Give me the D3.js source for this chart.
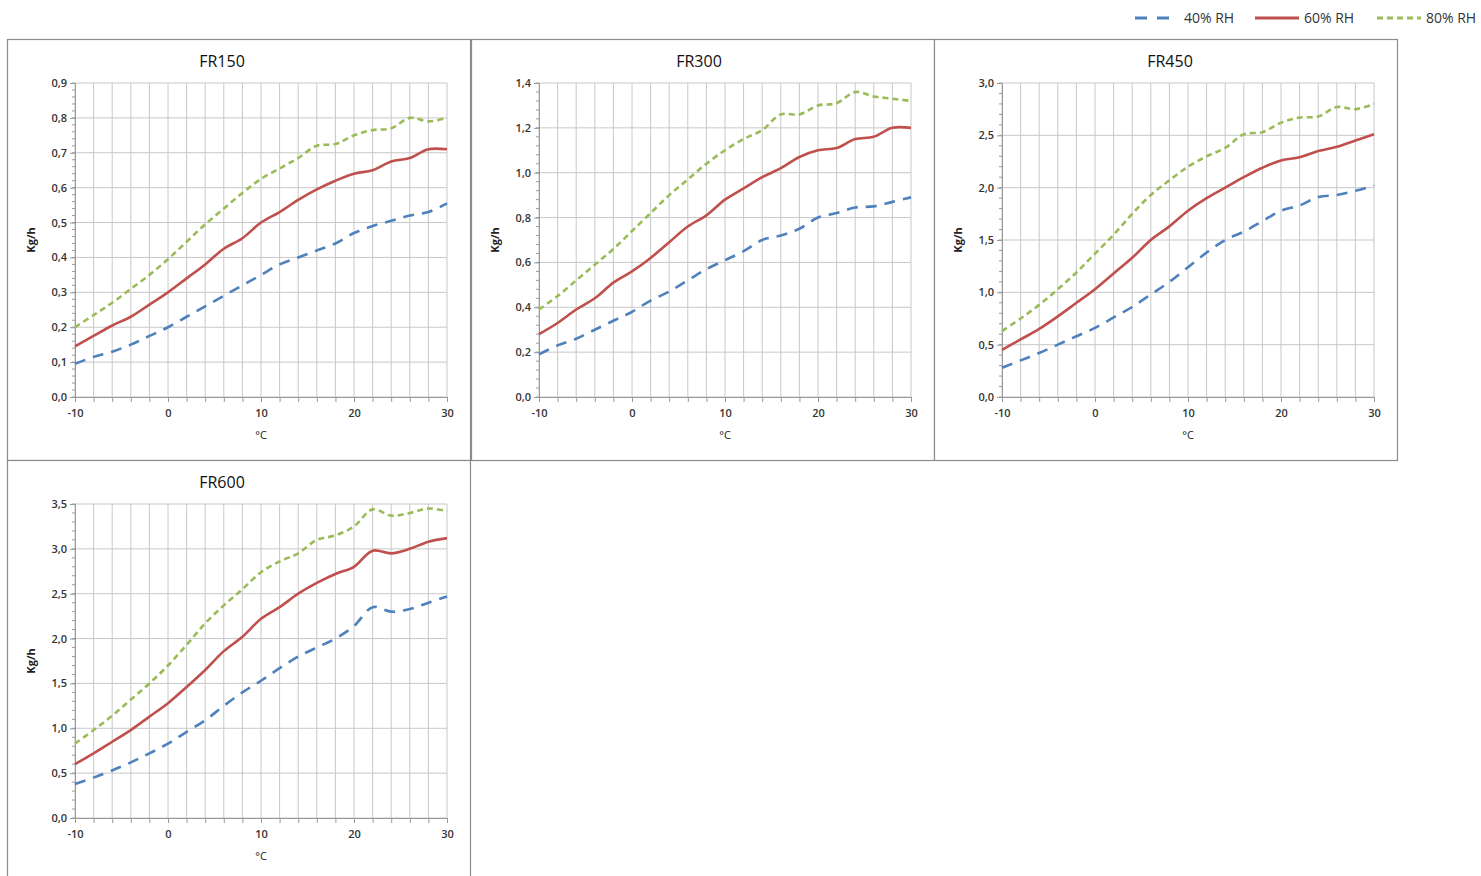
<!DOCTYPE html>
<html><head><meta charset="utf-8">
<script src="https://cdn.jsdelivr.net/npm/d3@7"></script>
<style>body{margin:0;background:#fff;font-family:"Open Sans",sans-serif}</style>
</head><body><svg id="c" width="1481" height="876"></svg>
<script>
// temperatures, every 2 °C
var temps = d3.range(-10, 31, 2);

var fr150_40 = [0.095,0.115,0.13,0.15,0.175,0.2,0.23,0.26,0.29,0.32,0.35,0.38,0.40,0.42,0.44,0.47,0.49,0.505,0.52,0.53,0.555];
var fr150_60 = [0.145,0.175,0.205,0.23,0.265,0.30,0.34,0.38,0.425,0.455,0.50,0.53,0.565,0.595,0.62,0.64,0.65,0.675,0.685,0.71,0.71];
var fr150_80 = [0.20,0.235,0.27,0.31,0.35,0.395,0.445,0.495,0.54,0.585,0.625,0.655,0.685,0.72,0.725,0.75,0.765,0.77,0.80,0.79,0.80];

var fr300_40 = [0.19,0.23,0.26,0.30,0.34,0.38,0.43,0.47,0.52,0.57,0.61,0.65,0.70,0.72,0.75,0.80,0.82,0.845,0.85,0.87,0.89];
var fr300_60 = [0.28,0.33,0.39,0.44,0.51,0.56,0.62,0.69,0.76,0.81,0.88,0.93,0.98,1.02,1.07,1.10,1.11,1.15,1.16,1.20,1.20];
var fr300_80 = [0.39,0.45,0.52,0.59,0.66,0.74,0.82,0.90,0.97,1.04,1.10,1.15,1.19,1.26,1.26,1.30,1.31,1.36,1.34,1.33,1.32];

var fr450_40 = [0.28,0.35,0.42,0.50,0.58,0.66,0.76,0.86,0.98,1.10,1.24,1.38,1.50,1.58,1.68,1.78,1.83,1.91,1.93,1.97,2.02];
var fr450_60 = [0.45,0.55,0.65,0.77,0.90,1.03,1.18,1.33,1.50,1.63,1.78,1.90,2.00,2.10,2.19,2.26,2.29,2.35,2.39,2.45,2.51];
var fr450_80 = [0.63,0.75,0.88,1.03,1.19,1.37,1.55,1.75,1.93,2.07,2.20,2.30,2.38,2.51,2.53,2.62,2.67,2.68,2.77,2.75,2.80];

var fr600_40 = [0.38,0.45,0.53,0.62,0.72,0.83,0.96,1.09,1.25,1.40,1.53,1.67,1.80,1.90,2.00,2.14,2.35,2.30,2.33,2.40,2.47];
var fr600_60 = [0.60,0.72,0.85,0.98,1.13,1.28,1.46,1.65,1.86,2.02,2.22,2.35,2.50,2.62,2.72,2.80,2.98,2.95,3.00,3.08,3.12];
var fr600_80 = [0.83,0.98,1.14,1.32,1.50,1.70,1.93,2.17,2.37,2.55,2.74,2.86,2.95,3.10,3.15,3.25,3.44,3.37,3.40,3.45,3.42];

var seriesNames = ["40% RH", "60% RH", "80% RH"];
var colors = ["#4f81bd", "#c0504d", "#9bbb59"];
var dashes = ["11,8", null, "6,4"];

var panels = [
  {title: "FR150", max: 0.9, step: 0.1, data: [fr150_40, fr150_60, fr150_80], bx: 7, by: 39, tx: 215},
  {title: "FR300", max: 1.4, step: 0.2, data: [fr300_40, fr300_60, fr300_80], bx: 471, by: 39, tx: 228},
  {title: "FR450", max: 3.0, step: 0.5, data: [fr450_40, fr450_60, fr450_80], bx: 934, by: 39, tx: 236},
  {title: "FR600", max: 3.5, step: 0.5, data: [fr600_40, fr600_60, fr600_80], bx: 7, by: 460, tx: 215}
];

var svg = d3.select("#c");
var fmt = function(v){ return d3.format(".1f")(v).replace(".", ","); };

panels.forEach(function(p) {
  var g = svg.append("g").attr("transform", "translate(" + p.bx + "," + p.by + ")");
  g.append("rect").attr("x", 0.5).attr("y", 0.5).attr("width", 463).attr("height", 421)
    .attr("fill", "#fff").attr("stroke", "#8c8c8c").attr("stroke-width", 1.2);
  g.append("text").attr("x", p.tx).attr("y", 28).attr("text-anchor", "middle")
    .attr("font-size", 16).attr("fill", "#111").text(p.title);

  var x = d3.scaleLinear().domain([-10, 30]).range([68, 440]);
  var y = d3.scaleLinear().domain([0, p.max]).range([358, 44]);
  var yt = d3.range(0, p.max + p.step / 2, p.step);

  // grid
  g.selectAll(".vg").data(temps).enter().append("line")
    .attr("x1", d => x(d)).attr("x2", d => x(d)).attr("y1", y(p.max)).attr("y2", y(0))
    .attr("stroke", "#c8c8c8");
  g.selectAll(".hg").data(yt).enter().append("line")
    .attr("x1", x(-10)).attr("x2", x(30)).attr("y1", d => y(d)).attr("y2", d => y(d))
    .attr("stroke", "#c8c8c8");

  var ya = d3.axisLeft(y).tickValues(yt).tickFormat(fmt).tickSize(5);
  var yag = g.append("g").attr("transform", "translate(" + x(-10) + ",0)").call(ya);
  // minor ticks
  var minor = d3.range(0, p.max + 1e-9, p.step / 5);
  yag.selectAll(".mt").data(minor).enter().append("line")
    .attr("x1", -3).attr("x2", 0).attr("y1", d => y(d)).attr("y2", d => y(d)).attr("stroke", "#999");
  var xa = d3.axisBottom(x).tickValues(temps).tickFormat(d => d % 10 === 0 ? d : "").tickSize(5);
  var xag = g.append("g").attr("transform", "translate(0," + y(0) + ")").call(xa);
  [yag, xag].forEach(function(a) {
    a.select(".domain").attr("stroke", "#999");
    a.selectAll(".tick line").attr("stroke", "#999");
    a.selectAll("text").attr("font-size", 11).attr("font-family", "Open Sans, sans-serif")
      .attr("font-weight", 600).attr("fill", "#333");
  });
  xag.selectAll("text").attr("dy", "1.1em");

  g.append("text").attr("transform", "translate(28," + (y(p.max / 2)) + ") rotate(-90)")
    .attr("text-anchor", "middle").attr("font-size", 11).attr("font-weight", "bold").attr("fill", "#222").text("Kg/h");
  g.append("text").attr("x", 254).attr("y", 400).attr("text-anchor", "middle")
    .attr("font-size", 11).attr("fill", "#222").text("°C");

  var line = d3.line().x((d, i) => x(temps[i])).y(d => y(d)).curve(d3.curveCatmullRom);
  p.data.forEach(function(s, k) {
    g.append("path").datum(s).attr("d", line).attr("fill", "none")
      .attr("stroke", colors[k]).attr("stroke-width", 2.6)
      .attr("stroke-dasharray", dashes[k]);
  });
});

// legend
var leg = svg.append("g").attr("transform", "translate(1135,18)");
var lx = [0, 120, 242];
seriesNames.forEach(function(n, k) {
  leg.append("line").attr("x1", lx[k]).attr("x2", lx[k] + 44).attr("y1", 0).attr("y2", 0)
    .attr("stroke", colors[k]).attr("stroke-width", 3).attr("stroke-dasharray", k === 0 ? "12,10" : dashes[k]);
  leg.append("text").attr("x", lx[k] + 49).attr("y", 5).attr("font-size", 14)
    .attr("fill", "#333").text(n);
});
</script></body></html>
